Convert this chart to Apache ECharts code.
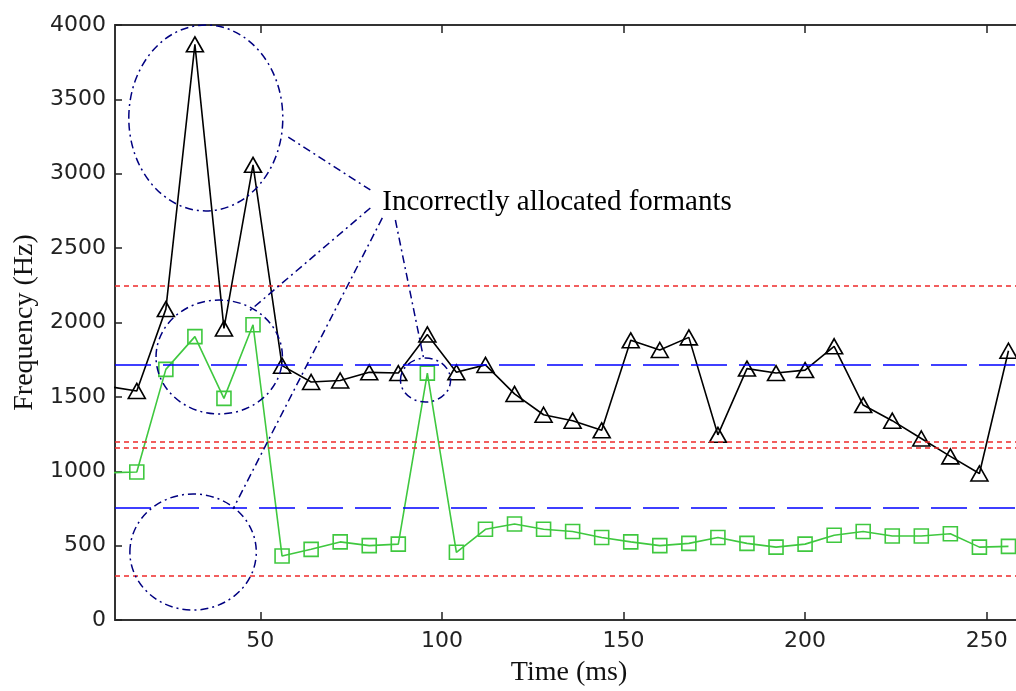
<!DOCTYPE html>
<html>
<head>
<meta charset="utf-8">
<title>Formant tracks</title>
<script src="https://cdn.jsdelivr.net/npm/echarts@6/dist/echarts.min.js"></script>
<style>
  html, body { margin: 0; padding: 0; background: #fff; }
  #chart { width: 1016px; height: 691px; }
</style>
</head>
<body>
<div id="chart"></div>
<script>
// time of each analysis frame (ms)
const timeMs = [8, 16, 24, 32, 40, 48, 56, 64, 72, 80, 88, 96, 104, 112, 120, 128,
  136, 144, 152, 160, 168, 176, 184, 192, 200, 208, 216, 224, 232, 240, 248, 256];
// upper formant track (black triangles), Hz
const upperTrack = [1570, 1540, 2090, 3870, 1960, 3060, 1710, 1600, 1610, 1665, 1660, 1920,
  1665, 1715, 1520, 1380, 1340, 1275, 1880, 1815, 1900, 1245, 1690, 1660, 1680, 1840,
  1445, 1340, 1220, 1100, 985, 1810];
// lower formant track (green squares), Hz
const lowerTrack = [990, 995, 1685, 1905, 1490, 1985, 430, 475, 525, 500, 510, 1660,
  455, 610, 645, 610, 595, 555, 525, 500, 515, 555, 515, 490, 510, 570,
  595, 565, 565, 580, 490, 495];
// reference levels, Hz
const redLevels = [2250, 1200, 1160, 300];
const blueLevels = [1715, 755];
const xTicks = [50, 100, 150, 200, 250];

// annotation geometry in data units [ms, Hz]
const noteEllipses = [
  { c: [35, 3375], r: [21.2, 625] },
  { c: [38.7, 1768], r: [17.4, 383] },
  { c: [31.5, 457], r: [17.4, 390] },
  { c: [95.5, 1613], r: [6.9, 148] }
];
const noteLines = [
  [[57.7, 3247], [80.3, 2891]],
  [[80.3, 2770], [46.7, 2071]],
  [[83.6, 2703], [42.5, 746]],
  [[87.2, 2689], [94.9, 1768]]
];
const noteText = { at: [83.6, 2810], text: 'Incorrectly allocated formants' };

const chart = echarts.init(document.getElementById('chart'));

const tickFont = { fontFamily: 'DejaVu Sans', fontSize: 22, color: '#222' };
const nameFont = { fontFamily: 'Liberation Serif', fontSize: 28, color: '#111' };
const axisLine = { show: true, lineStyle: { color: '#333', width: 2 } };

const refLines = [];
redLevels.forEach(v => refLines.push({ yAxis: v, lineStyle: { color: '#ee2a2a', type: [5, 4], width: 1.5 } }));
blueLevels.forEach(v => refLines.push({ yAxis: v, lineStyle: { color: '#0000ff', type: [36, 12], width: 1.5 } }));

const option = {
  animation: false,
  grid: { left: 115, top: 25, right: -7, bottom: 71, containLabel: false, outerBoundsMode: 'none' },
  xAxis: [
    {
      type: 'value', min: 10, max: 260, position: 'bottom',
      name: 'Time (ms)', nameLocation: 'middle', nameGap: 39, nameTextStyle: nameFont,
      axisLine: axisLine,
      axisTick: { show: true, inside: true, length: 8, customValues: xTicks, lineStyle: { color: '#222', width: 1.5 } },
      axisLabel: { show: true, margin: 10, customValues: xTicks, formatter: v => String(v), ...tickFont },
      splitLine: { show: false }
    },
    {
      type: 'value', min: 10, max: 260, position: 'top',
      axisLine: axisLine,
      axisTick: { show: true, inside: true, length: 8, customValues: xTicks, lineStyle: { color: '#222', width: 1.5 } },
      axisLabel: { show: false },
      splitLine: { show: false }
    }
  ],
  yAxis: {
    type: 'value', min: 0, max: 4000, interval: 500,
    name: 'Frequency (Hz)', nameLocation: 'middle', nameGap: 67, nameTextStyle: nameFont,
    axisLine: axisLine,
    axisTick: { show: true, inside: true, length: 7, lineStyle: { color: '#222', width: 1.5 } },
    axisLabel: { margin: 9, formatter: v => String(v), ...tickFont },
    splitLine: { show: false }
  },
  series: [
    {
      name: 'upper',
      type: 'line',
      data: timeMs.map((t, i) => [t, upperTrack[i]]),
      symbol: 'triangle',
      symbolSize: [17, 15],
      showAllSymbol: true,
      lineStyle: { color: '#000', width: 1.6 },
      itemStyle: { color: 'rgba(0,0,0,0)', borderColor: '#000', borderWidth: 1.6 },
      z: 4
    },
    {
      name: 'lower',
      type: 'line',
      data: timeMs.map((t, i) => [t, lowerTrack[i]]),
      symbol: 'rect',
      symbolSize: 14,
      showAllSymbol: true,
      lineStyle: { color: '#3fc83f', width: 1.6 },
      itemStyle: { color: 'rgba(0,0,0,0)', borderColor: '#3fc83f', borderWidth: 1.6 },
      z: 3,
      markLine: {
        silent: true,
        symbol: ['none', 'none'],
        label: { show: false },
        data: refLines
      }
    }
  ]
};

chart.setOption(option);

// annotations placed through the chart's own coordinate system
const px = p => chart.convertToPixel({ gridIndex: 0 }, p);
const noteStyle = { fill: 'none', stroke: '#000080', lineWidth: 1.5, lineDash: [8, 4, 2, 4] };
const graphics = [];
noteEllipses.forEach(e => {
  const c = px(e.c);
  const edge = px([e.c[0] + e.r[0], e.c[1] + e.r[1]]);
  graphics.push({
    type: 'ellipse', silent: true, z: 10,
    shape: { cx: c[0], cy: c[1], rx: Math.abs(edge[0] - c[0]), ry: Math.abs(edge[1] - c[1]) },
    style: noteStyle
  });
});
noteLines.forEach(l => {
  const a = px(l[0]), b = px(l[1]);
  graphics.push({
    type: 'line', silent: true, z: 10,
    shape: { x1: a[0], y1: a[1], x2: b[0], y2: b[1] },
    style: { stroke: '#000080', lineWidth: 1.5, lineDash: [8, 4, 2, 4] }
  });
});
const tp = px(noteText.at);
graphics.push({
  type: 'text', silent: true, z: 11,
  x: tp[0], y: tp[1],
  style: { text: noteText.text, font: '29px "Liberation Serif"', fill: '#000', verticalAlign: 'middle', align: 'left' }
});
chart.setOption({ graphic: graphics });
</script>
</body>
</html>
